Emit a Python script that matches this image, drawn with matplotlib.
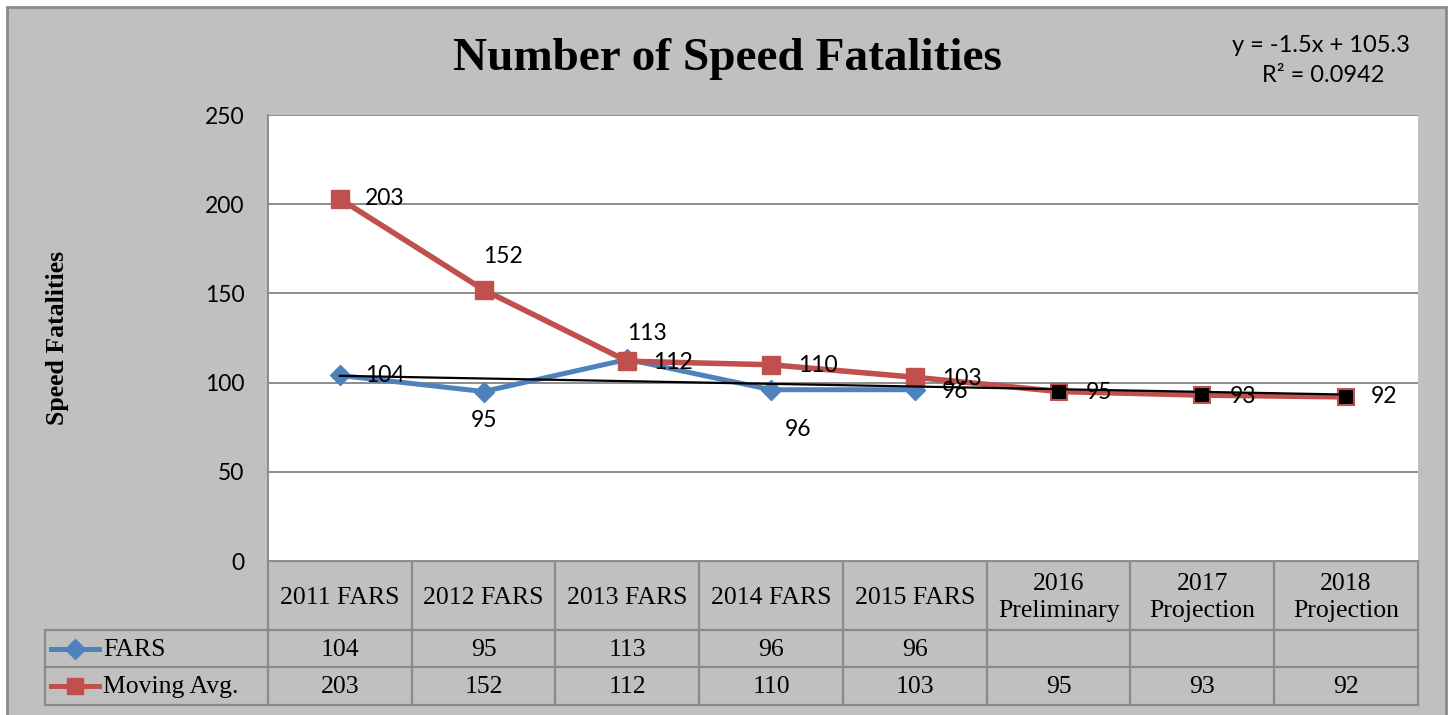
import numpy as np
import matplotlib
matplotlib.use("Agg")
import matplotlib.pyplot as plt
from matplotlib.patches import Rectangle
from matplotlib.lines import Line2D

# data
categories = ["2011 FARS", "2012 FARS", "2013 FARS", "2014 FARS", "2015 FARS",
              "2016\nPreliminary", "2017\nProjection", "2018\nProjection"]
fars = [104, 95, 113, 96, 96]
moving_avg = [203, 152, 112, 110, 103, 95, 93, 92]
n_actual = 5  # moving avg points with red markers, rest black
y_ticks = [0, 50, 100, 150, 200, 250]

# label offsets in pixels (dx, dy, ha) - Excel-ish placement
fars_lbl = [(25, 0, "left"), (0, 29, "center"), (20, -26, "center"),
            (27, 40, "center"), (27, 2, "left")]
ma_lbl = [(25, 0, "left"), (19, -33, "center"), (26, 1, "left"), (27, 1, "left"),
          (27, 1, "left"), (27, 1, "left"), (27, 1, "left"), (25, 0, "left")]

W, H = 1450, 715
BLUE = "#4F81BD"
RED = "#C0504D"
GRAY = "#C0C0C0"
EDGE = "#8A8A8A"
num_font = "Lato"
serif = "Liberation Serif"

fig = plt.figure(figsize=(W / 100, H / 100), dpi=100)
fig.patch.set_facecolor("white")

# overlay in pixel coords for panel, title, table
bg = fig.add_axes([0, 0, 1, 1])
bg.set_xlim(0, W)
bg.set_ylim(H, 0)
bg.axis("off")
bg.add_patch(Rectangle((7, 7), 1439, 720, facecolor=GRAY, edgecolor=EDGE, lw=2))

# plot area
px_l, px_r, px_t, px_b = 268, 1418, 115, 561
ax = fig.add_axes([px_l / W, (H - px_b) / H, (px_r - px_l) / W, (px_b - px_t) / H])
ax.set_facecolor("white")
x = np.arange(1, len(categories) + 1)
ax.set_xlim(0.5, len(categories) + 0.5)
ax.set_ylim(0, 250)
ax.set_yticks(y_ticks)
ax.set_xticks([])
ax.grid(axis="y", color="#8C8C8C", lw=1.4)
ax.set_axisbelow(True)
for s in ax.spines.values():
    s.set_visible(False)
ax.spines["left"].set_visible(True)
ax.spines["left"].set_color("#8C8C8C")
ax.spines["left"].set_linewidth(1.4)
ax.tick_params(axis="y", length=0, pad=17, labelsize=16.5)
for t in ax.get_yticklabels():
    t.set_fontfamily(num_font)

ax.plot(x[:len(fars)], fars, color=BLUE, lw=3.6, marker="D", ms=10.5,
        mfc=BLUE, mec=BLUE, zorder=3, solid_joinstyle="round")
ax.plot(x, moving_avg, color=RED, lw=4, zorder=4)
ax.plot(x[:n_actual], moving_avg[:n_actual], ls="none", marker="s", ms=12.5,
        mfc=RED, mec=RED, zorder=5)
ax.plot(x[n_actual:], moving_avg[n_actual:], ls="none", marker="s", ms=11.5,
        mfc="black", mec=RED, mew=1.5, zorder=5)

# linear trendline on FARS, forecast to the last category
slope, icpt = np.polyfit(x[:len(fars)], fars, 1)
ax.plot([x[0], x[-1]], [slope * x[0] + icpt, slope * x[-1] + icpt],
        color="black", lw=1.6, zorder=6)

for xi, v, (dx, dy, ha) in zip(x, fars, fars_lbl):
    ax.annotate(str(v), (xi, v), xytext=(dx * 0.72, -dy * 0.72), textcoords="offset points",
                ha=ha, va="center", fontsize=16.5, fontfamily=num_font, zorder=8)
for xi, v, (dx, dy, ha) in zip(x, moving_avg, ma_lbl):
    ax.annotate(str(v), (xi, v), xytext=(dx * 0.72, -dy * 0.72), textcoords="offset points",
                ha=ha, va="center", fontsize=16.5, fontfamily=num_font, zorder=8)

# title, axis label, trendline equation
bg.text(727, 59, "Number of Speed Fatalities", ha="center", va="center",
        fontsize=34, fontweight="bold", fontfamily=serif)
bg.text(58, 338, "Speed Fatalities", ha="center", va="center", rotation=90,
        fontsize=18.5, fontweight="bold", fontfamily=serif)
bg.text(1321, 45, f"y = {slope:.1f}x + {icpt:.1f}", ha="center", va="center",
        fontsize=17, fontfamily=num_font)
r2 = np.corrcoef(x[:len(fars)], fars)[0, 1] ** 2
bg.text(1323, 76, f"R² = {r2:.4f}", ha="center", va="center",
        fontsize=17, fontfamily=num_font)

# data table below the plot
col_w = (px_r - px_l) / len(categories)
rows_y = [561, 630, 667, 705]
leg_l = 45
lc = dict(color=EDGE, lw=1.6)
# header row
bg.add_line(Line2D([px_l, px_r], [rows_y[0], rows_y[0]], **lc))
for r in rows_y[1:]:
    bg.add_line(Line2D([leg_l, px_r], [r, r], **lc))
for i in range(len(categories) + 1):
    xx = px_l + i * col_w
    bg.add_line(Line2D([xx, xx], [rows_y[0], rows_y[-1]], **lc))
bg.add_line(Line2D([leg_l, leg_l], [rows_y[1], rows_y[-1]], **lc))

for i, c in enumerate(categories):
    cx = px_l + (i + 0.5) * col_w
    bg.text(cx, (rows_y[0] + rows_y[1]) / 2 + 2, c, ha="center", va="center",
            fontsize=18.5, fontfamily=serif, linespacing=1.3)
    if i < len(fars):
        bg.text(cx, (rows_y[1] + rows_y[2]) / 2 + 1, str(fars[i]), ha="center",
                va="center", fontsize=18.5, fontfamily=serif)
    bg.text(cx, (rows_y[2] + rows_y[3]) / 2 + 1, str(moving_avg[i]), ha="center",
            va="center", fontsize=18.5, fontfamily=serif)

# legend keys in the table
for (y0, y1), name, col, mk, ms in [((rows_y[1], rows_y[2]), "FARS", BLUE, "D", 10),
                                     ((rows_y[2], rows_y[3]), "Moving Avg.", RED, "s", 12)]:
    ym = (y0 + y1) / 2
    bg.plot([51, 99], [ym, ym], color=col, lw=3.6)
    bg.plot([75], [ym], marker=mk, ms=ms, color=col)
    bg.text(103, ym + 1, name, ha="left", va="center", fontsize=18.5, fontfamily=serif)

fig.savefig("out.png", dpi=100)
